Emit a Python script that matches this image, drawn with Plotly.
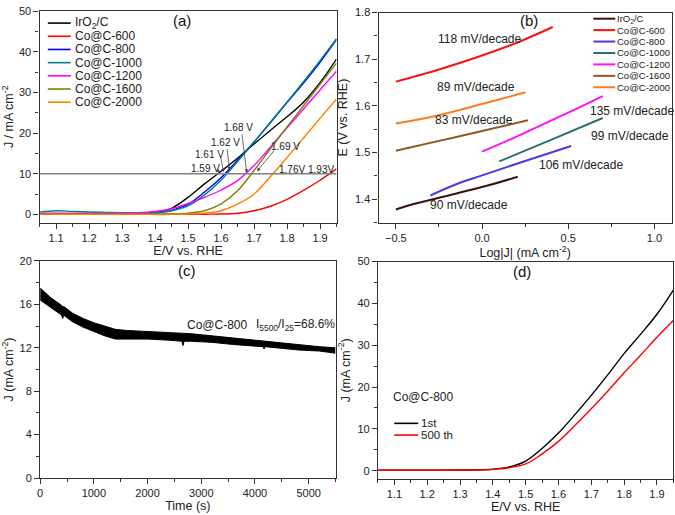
import plotly.graph_objects as go

# ---- (a) LSV curves ----
E_a = [1.05, 1.10, 1.15, 1.20, 1.25, 1.30, 1.35, 1.40, 1.45, 1.50,
       1.55, 1.60, 1.65, 1.70, 1.75, 1.80, 1.85, 1.90, 1.95]
J_iro2 = [0.2, 0.2, 0.2, 0.2, 0.2, 0.25, 0.3, 0.5, 1.5, 4.2, 7.5, 10.6, 13.8, 17.3, 20.7, 24.0, 27.6, 32.4, 38.2]
J_600 = [0, 0, 0, 0, 0, 0, 0, 0, 0, 0, 0.05, 0.1, 0.3, 0.9, 2.0, 3.7, 5.9, 8.4, 11.2]
J_800 = [0.15, 0.15, 0.15, 0.15, 0.15, 0.2, 0.25, 0.4, 1.0, 2.5, 5.5, 9.0, 13.3, 17.8, 22.6, 27.5, 32.3, 37.4, 43.0]
J_1000 = [0.55, 0.9, 0.75, 0.6, 0.5, 0.4, 0.35, 0.4, 0.9, 2.1, 4.8, 8.4, 13.0, 17.8, 22.7, 27.6, 32.6, 37.8, 43.2]
J_1200 = [0.3, 0.3, 0.3, 0.3, 0.3, 0.35, 0.4, 0.7, 1.4, 2.7, 4.2, 6.0, 8.3, 12.0, 16.6, 21.3, 25.9, 30.6, 35.2]
J_1600 = [0.1, 0.1, 0.1, 0.1, 0.1, 0.1, 0.1, 0.1, 0.15, 0.3, 0.9, 2.6, 5.8, 10.8, 16.2, 21.5, 26.7, 32.0, 37.2]
J_2000 = [0, 0, 0, 0, 0, 0, 0, 0, 0, 0.1, 0.3, 0.9, 2.5, 5.0, 9.3, 14.0, 18.8, 23.6, 28.4]
ref_E = [1.05, 1.95]
ref_J = [10, 10]

names = ["IrO<sub>2</sub>/C", "Co@C-600", "Co@C-800", "Co@C-1000", "Co@C-1200", "Co@C-1600", "Co@C-2000"]
colors_a = ["#000000", "#ff0000", "#0000ff", "#008080", "#ff00ff", "#808000", "#ff8000"]
colors_b = ["#3a1010", "#ff1010", "#4a3ae0", "#2a7070", "#ff10ff", "#8a5a20", "#ff7a20"]

# onset labels in (a): text, text pos, arrow tail, arrow head
onset_txt = ["1.59 V", "1.61 V", "1.62 V", "1.68 V", "1.69 V", "1.76V", "1.93V"]
onset_tx = [1.553, 1.566, 1.613, 1.653, 1.794, 1.815, 1.903]
onset_ty = [11.4, 14.8, 17.8, 21.4, 16.8, 11.0, 11.0]
arrow_tail_x = [1.585, 1.598, 1.618, 1.663, 1.764]
arrow_tail_y = [11.0, 14.5, 16.4, 20.0, 16.0]
arrow_head_x = [1.598, 1.608, 1.626, 1.678, 1.709]
arrow_head_y = [10.5, 10.4, 10.8, 10.2, 10.6]

# ---- (b) Tafel plots ----
tx_iro2 = [-0.5, -0.45, -0.25, 0.0, 0.207]
ty_iro2 = [1.378, 1.384, 1.403, 1.426, 1.448]
tx_600 = [-0.5, -0.25, 0.0, 0.2, 0.41]
ty_600 = [1.652, 1.678, 1.708, 1.735, 1.769]
tx_800 = [-0.3, -0.15, 0.0, 0.25, 0.517]
ty_800 = [1.408, 1.432, 1.451, 1.482, 1.514]
tx_1000 = [0.1, 0.4, 0.7]
ty_1000 = [1.481, 1.527, 1.574]
tx_1200 = [0.0, 0.175, 0.35, 0.525, 0.70]
ty_1200 = [1.502, 1.530, 1.560, 1.590, 1.621]
tx_1600 = [-0.5, -0.25, 0.0, 0.266]
ty_1600 = [1.504, 1.525, 1.546, 1.569]
tx_2000 = [-0.5, -0.25, 0.0, 0.252]
ty_2000 = [1.562, 1.580, 1.604, 1.629]

slope_txt = ["118 mV/decade", "89 mV/decade", "83 mV/decade", "135 mV/decade",
             "99 mV/decade", "106 mV/decade", "90 mV/decade"]
slope_x = [-0.016, -0.035, -0.045, 0.870, 0.857, 0.576, -0.074]
slope_y = [1.744, 1.641, 1.570, 1.590, 1.535, 1.474, 1.387]

# ---- (c) chronoamperometry band (upper / lower envelope) ----
t_c = [0, 200, 400, 420, 440, 600, 800, 1000, 1200, 1400, 1600, 2000, 2400, 2640, 2660, 2680,
       2800, 3200, 3600, 4000, 4150, 4170, 4190, 4400, 4800, 5200, 5500]
J_up = [17.5, 16.6, 15.9, 15.8, 15.8, 15.2, 14.7, 14.3, 14.0, 13.7, 13.6, 13.5, 13.4, 13.3, 13.3, 13.3,
        13.3, 13.1, 12.9, 12.7, 12.6, 12.6, 12.6, 12.5, 12.3, 12.1, 12.0]
J_lo = [16.4, 15.7, 15.0, 14.7, 15.0, 14.4, 13.9, 13.5, 13.1, 12.8, 12.8, 12.8, 12.7, 12.6, 12.2, 12.6,
        12.6, 12.5, 12.3, 12.2, 12.1, 11.9, 12.1, 12.0, 11.8, 11.7, 11.5]

# ---- (d) cycling ----
E_d = [1.05, 1.10, 1.20, 1.30, 1.35, 1.40, 1.45, 1.50, 1.55, 1.60,
       1.65, 1.70, 1.75, 1.80, 1.85, 1.90, 1.95]
J_1st = [0.1, 0.1, 0.1, 0.15, 0.2, 0.35, 0.9, 2.3, 5.3, 9.0, 13.4, 18.0, 22.9, 28.0, 32.6, 37.4, 43.2]
J_500 = [0.1, 0.1, 0.1, 0.12, 0.15, 0.3, 0.7, 1.6, 4.0, 7.0, 10.8, 14.8, 19.0, 23.4, 27.6, 31.9, 35.9]
names_d = ["1st", "500 th"]
colors_d = ["#000000", "#ff0000"]

FONT = "Liberation Sans, Arial, sans-serif"
fig = go.Figure()

for J, c in zip([J_iro2, J_600, J_800, J_1000, J_1200, J_1600, J_2000], colors_a):
    fig.add_trace(go.Scatter(x=E_a, y=J, mode="lines", line=dict(color=c, width=1.4, shape="spline"),
                             xaxis="x", yaxis="y", showlegend=False))
fig.add_trace(go.Scatter(x=ref_E, y=ref_J, mode="lines", line=dict(color="#808080", width=1.5),
                         xaxis="x", yaxis="y", showlegend=False))

tafel = [(tx_iro2, ty_iro2), (tx_600, ty_600), (tx_800, ty_800), (tx_1000, ty_1000),
         (tx_1200, ty_1200), (tx_1600, ty_1600), (tx_2000, ty_2000)]
for (tx, ty), c in zip(tafel, colors_b):
    fig.add_trace(go.Scatter(x=tx, y=ty, mode="lines", line=dict(color=c, width=2, shape="spline"),
                             xaxis="x2", yaxis="y2", showlegend=False))

fig.add_trace(go.Scatter(x=t_c, y=J_lo, mode="lines", line=dict(color="black", width=1),
                         xaxis="x3", yaxis="y3", showlegend=False))
fig.add_trace(go.Scatter(x=t_c, y=J_up, mode="lines", line=dict(color="black", width=1),
                         fill="tonexty", fillcolor="black", xaxis="x3", yaxis="y3", showlegend=False))

for J, c in zip([J_1st, J_500], colors_d):
    fig.add_trace(go.Scatter(x=E_d, y=J, mode="lines", line=dict(color=c, width=1.4, shape="spline"),
                             xaxis="x4", yaxis="y4", showlegend=False))

ann = []
shapes = []
tf = dict(family=FONT, size=10, color="#222")

for t, x, y in zip(onset_txt, onset_tx, onset_ty):
    ann.append(dict(x=x, y=y, xref="x", yref="y", text=t, showarrow=False, font=tf))
for x0, y0, x1, y1 in zip(arrow_tail_x, arrow_tail_y, arrow_head_x, arrow_head_y):
    ann.append(dict(x=x1, y=y1, ax=x0, ay=y0, xref="x", yref="y", axref="x", ayref="y", text="",
                    showarrow=True, arrowhead=2, arrowsize=0.9, arrowwidth=0.8, arrowcolor="#444"))
for t, x, y in zip(slope_txt, slope_x, slope_y):
    ann.append(dict(x=x, y=y, xref="x2", yref="y2", text=t, showarrow=False,
                    font=dict(family=FONT, size=12, color="#222")))

pf = dict(family=FONT, size=15, color="#111")
ann.append(dict(x=1.482, y=47.6, xref="x", yref="y", text="(a)", showarrow=False, font=pf))
ann.append(dict(x=0.271, y=1.783, xref="x2", yref="y2", text="(b)", showarrow=False, font=pf))
ann.append(dict(x=2735, y=19.1, xref="x3", yref="y3", text="(c)", showarrow=False, font=pf))
ann.append(dict(x=1.488, y=47.6, xref="x4", yref="y4", text="(d)", showarrow=False, font=pf))

cf = dict(family=FONT, size=12, color="#222")
ann.append(dict(x=2700, y=14.1, xref="x3", yref="y3", text="Co@C-800", xanchor="left",
                showarrow=False, font=cf))
ann.append(dict(x=3980, y=14.1, xref="x3", yref="y3", text="I<sub>5500</sub>/I<sub>25</sub>=68.6%",
                xanchor="left", showarrow=False, font=cf))
ann.append(dict(x=1.09, y=17.6, xref="x4", yref="y4", text="Co@C-800", xanchor="left",
                showarrow=False, font=dict(family=FONT, size=12, color="#222")))


def add_legend(labels, cols, lx0, lx1, tx, y0, dy, size, width):
    for i, (lab, c) in enumerate(zip(labels, cols)):
        yy = 1 - (y0 + i * dy) / 515
        shapes.append(dict(type="line", xref="paper", yref="paper", x0=lx0 / 675, x1=lx1 / 675,
                           y0=yy, y1=yy, line=dict(color=c, width=width)))
        ann.append(dict(x=tx / 675, y=yy, xref="paper", yref="paper", text=lab, showarrow=False,
                        xanchor="left", yanchor="middle", font=dict(family=FONT, size=size, color="#222")))


add_legend(names, colors_a, 45, 68, 70, 17.5, 13.5, 12, 1.6)
add_legend(names, colors_b, 593, 615, 615, 13, 11.7, 9.5, 2)
add_legend(names_d, colors_d, 393, 417, 418, 427.3, 12, 11.5, 1.6)

fig.update_layout(annotations=ann, shapes=shapes)

axis_common = dict(showline=True, linecolor="#333", linewidth=1.3, mirror=True, ticks="outside",
                   ticklen=5, tickwidth=1, tickcolor="#333", showgrid=False, zeroline=False,
                   tickfont=dict(family=FONT, size=11, color="#222"),
                   minor=dict(ticks="outside", ticklen=3, tickwidth=1, tickcolor="#333", showgrid=False),
                   title_font=dict(family=FONT, size=12.5, color="#222"))

fig.update_layout(
    width=675, height=515, margin=dict(l=0, r=0, t=0, b=0),
    paper_bgcolor="white", plot_bgcolor="white", showlegend=False,
    xaxis=dict(axis_common, domain=[0.0544, 0.4963], range=[1.05, 1.95], dtick=0.1, tick0=1.1,
               minor_dtick=0.05, title_text="E/V vs. RHE", title_standoff=0, anchor="y"),
    yaxis=dict(axis_common, domain=[0.5695, 0.990], range=[-2, 50], dtick=10, minor_dtick=5,
               title_text="J / mA cm<sup>-2</sup>", title_standoff=4, anchor="x"),
    xaxis2=dict(axis_common, domain=[0.559, 0.995], range=[-0.6, 1.1], dtick=0.5, tickformat=".1f",
                minor_dtick=0.25, title_text="Log|J| (mA cm<sup>-2</sup>)", title_standoff=0, anchor="y2"),
    yaxis2=dict(axis_common, domain=[0.5695, 0.987], range=[1.35, 1.8], dtick=0.1, tickformat=".1f",
                minor_dtick=0.05, title_text="E (V vs. RHE)", title_standoff=4, anchor="x2"),
    xaxis3=dict(axis_common, domain=[0.0553, 0.4948], range=[0, 5500], dtick=1000, minor_dtick=500,
                title_text="Time (s)", title_standoff=0, anchor="y3"),
    yaxis3=dict(axis_common, domain=[0.0615, 0.4932], range=[0, 20], dtick=4, minor_dtick=2,
                title_text="J (mA cm<sup>-2</sup>)", title_standoff=4, anchor="x3"),
    xaxis4=dict(axis_common, domain=[0.558, 0.9975], range=[1.05, 1.95], dtick=0.1, tick0=1.1,
                minor_dtick=0.05, title_text="E/V vs. RHE", title_standoff=0, anchor="y4"),
    yaxis4=dict(axis_common, domain=[0.0596, 0.4919], range=[-2, 50], dtick=10, minor_dtick=5,
                title_text="J (mA cm<sup>-2</sup>)", title_standoff=4, anchor="x4"),
)

fig.write_html("out.html", config={"displayModeBar": False},
               post_script="document.body.style.margin='0';")
